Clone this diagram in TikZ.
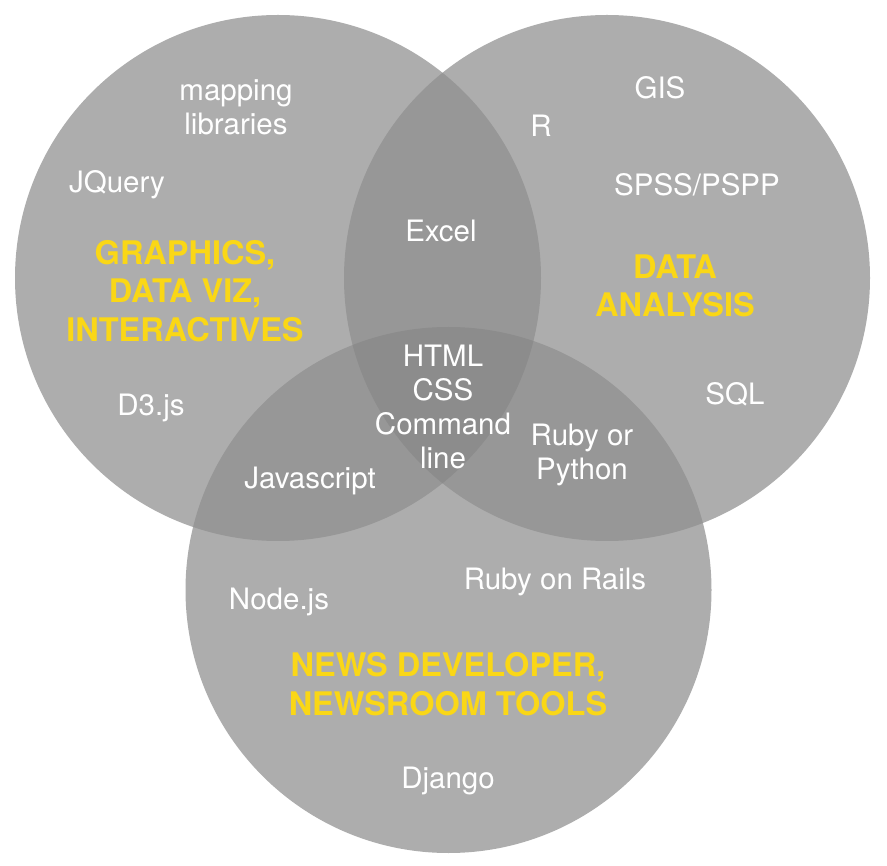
\documentclass[tikz,border=0pt]{standalone}
\usepackage{fontspec}
\setmainfont{TeX Gyre Heros}
\definecolor{singlegray}{RGB}{173,173,173}
\definecolor{doublegray}{RGB}{151,151,151}
\definecolor{triplegray}{RGB}{140,140,140}
\definecolor{titleyellow}{RGB}{250,215,22}
\tikzset{
  setcircle/.style={circle, minimum size=526pt, inner sep=0pt, fill=singlegray},
  item/.style={text=white, font=\fontsize{29.5}{34}\selectfont, align=center, inner sep=0pt},
  title/.style={text=titleyellow, font=\fontsize{32.5}{38.5}\selectfont\bfseries, align=center, inner sep=0pt}
}
\begin{document}
\begin{tikzpicture}[x=1pt,y=-1pt]
\useasboundingbox (0,0) rectangle (887,866);
\fill[white] (0,0) rectangle (887,866);
% the three sets
\node[setcircle] (gfx) at (278,278) {};
\node[setcircle] (data) at (607,278) {};
\node[setcircle] (news) at (448.5,590) {};
% pairwise overlaps
\begin{scope}
  \clip (gfx.center) circle[radius=263pt];
  \fill[doublegray] (data.center) circle[radius=263pt];
  \fill[doublegray] (news.center) circle[radius=263pt];
\end{scope}
\begin{scope}
  \clip (data.center) circle[radius=263pt];
  \fill[doublegray] (news.center) circle[radius=263pt];
\end{scope}
% triple overlap
\begin{scope}
  \clip (gfx.center) circle[radius=263pt];
  \clip (data.center) circle[radius=263pt];
  \fill[triplegray] (news.center) circle[radius=263pt];
\end{scope}
% labels
\node[item] (mapping) at (236,107) {mapping\\libraries};
\node[item] (jquery) at (117,185) {JQuery};
\node[title] (gfxtitle) at (185,291) {GRAPHICS,\\DATA VIZ,\\INTERACTIVES};
\node[item] (d3) at (151,408) {D3.js};
\node[item] (excel) at (441,231) {Excel};
\node[item] (r) at (541,126) {R};
\node[item] (gis) at (660,88) {GIS};
\node[item] (spss) at (697,185) {SPSS/PSPP};
\node[title] (datatitle) at (675,286) {DATA\\ANALYSIS};
\node[item] (sql) at (735,394) {SQL};
\node[item] (core) at (443,407) {HTML\\CSS\\Command\\line};
\node[item] (rubypy) at (582,455) {Ruby or\\Python};
\node[item] (js) at (310,481) {Javascript};
\node[item] (node) at (279,602) {Node.js};
\node[item] (rails) at (555,582) {Ruby on Rails};
\node[title] (newstitle) at (448,684) {NEWS DEVELOPER,\\NEWSROOM TOOLS};
\node[item] (django) at (448,781) {Django};
\end{tikzpicture}
\end{document}
